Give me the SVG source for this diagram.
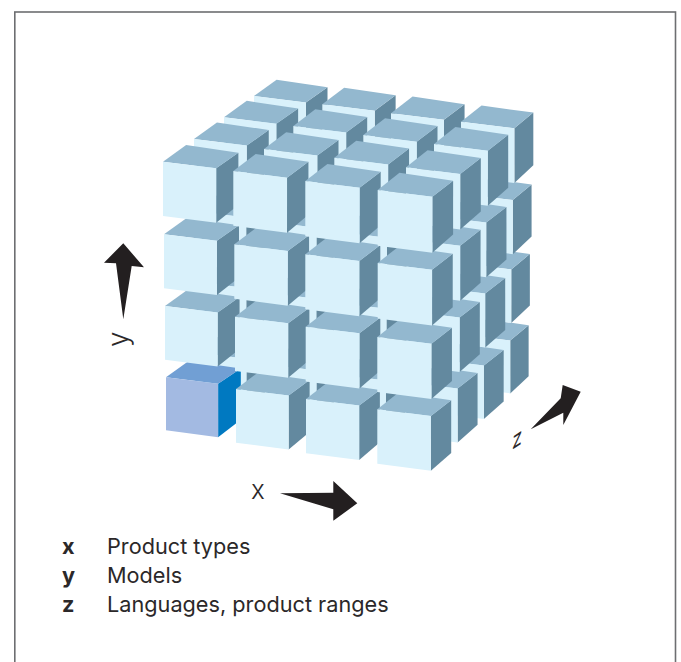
<svg xmlns="http://www.w3.org/2000/svg" width="681" height="662" viewBox="0 0 681 662">
<style>
.f{fill:#d9f1fb}.t{fill:#93b8cf}.s{fill:#63899f}
.bf{fill:#a3bae2}.bt{fill:#719fd4}.bs{fill:#0079c1}
.a{fill:#231f20}
text{font-family:"Inter","Liberation Sans",sans-serif;fill:#2b2829}
.l{font-size:21.7px}.b{font-size:21.7px;font-weight:700}.ax{font-size:26px;font-weight:300}
</style>
<defs>
<g id="c0"><polygon class="s" points="54,6.7 76.5,-9.2 76.5,44 54,62"/><polygon class="t" points="0,0 23.5,-17 76.5,-9.2 54,6.7"/><polygon class="f" points="0,0 54,6.7 54,62 0,55"/></g>
<g id="c1"><polygon class="s" points="54,6.7 75.5,-9.2 75.5,44 54,62"/><polygon class="t" points="0,0 22.5,-17 75.5,-9.2 54,6.7"/><polygon class="f" points="0,0 54,6.7 54,62 0,55"/></g>
<g id="c2"><polygon class="s" points="54,6.7 75,-9.2 75,44 54,62"/><polygon class="t" points="0,0 22,-17 75,-9.2 54,6.7"/><polygon class="f" points="0,0 54,6.7 54,62 0,55"/></g>
<g id="c3"><polygon class="s" points="54,6.7 74.5,-9.2 74.5,44 54,62"/><polygon class="t" points="0,0 21.5,-17 74.5,-9.2 54,6.7"/><polygon class="f" points="0,0 54,6.7 54,62 0,55"/></g>
<g id="c3b"><polygon class="s" points="54,6.7 73.2,-9.2 73.2,44 54,62"/><polygon class="t" points="0,0 20.8,-16.4 73.2,-9.2 54,6.7"/><polygon class="f" points="0,0 54,6.7 54,62 0,55"/></g>
<g id="cb"><polygon class="bs" points="54,6.7 77.5,-9.2 77.5,44 54,62"/><polygon class="bt" points="0,0 23.5,-17 77.5,-9.2 54,6.7"/><polygon class="bf" points="0,0 54,6.7 54,62 0,55"/></g>
</defs>
<rect id="frame" x="14.8" y="12" width="660.7" height="670" fill="none" stroke="#6d6e71" stroke-width="1.6"/>
<g id="cubes">
<use href="#c0" transform="translate(253.9 302.3) scale(.931)"/><use href="#c1" transform="translate(322.4 314) scale(.941)"/><use href="#c2" transform="translate(389.1 324) scale(.951)"/><use href="#c3b" transform="translate(458.5 334) scale(.958)"/>
<use href="#c0" transform="translate(253.8 232.5) scale(.941)"/><use href="#c1" transform="translate(322.3 243.2) scale(.951)"/><use href="#c2" transform="translate(389.7 253.2) scale(.961)"/><use href="#c3b" transform="translate(459 263) scale(.968)"/>
<use href="#c0" transform="translate(254 164.7) scale(.951)"/><use href="#c1" transform="translate(322.5 174.7) scale(.961)"/><use href="#c2" transform="translate(390.2 184.7) scale(.971)"/><use href="#c3b" transform="translate(460 193.5) scale(.978)"/>
<use href="#c0" transform="translate(254 96) scale(.961)"/><use href="#c1" transform="translate(322.3 104.3) scale(.971)"/><use href="#c2" transform="translate(391 113.3) scale(.981)"/><use href="#c3b" transform="translate(461 121.7) scale(.988)"/>

<use href="#c0" transform="translate(224.6 327.3) scale(.939)"/><use href="#c1" transform="translate(293.6 339) scale(.949)"/><use href="#c2" transform="translate(361.4 349) scale(.959)"/><use href="#c3" transform="translate(431.7 359) scale(.966)"/>
<use href="#c0" transform="translate(224.2 257) scale(.949)"/><use href="#c1" transform="translate(293.2 267.7) scale(.959)"/><use href="#c2" transform="translate(361.7 277.7) scale(.969)"/><use href="#c3" transform="translate(432.5 287) scale(.976)"/>
<use href="#c0" transform="translate(224 187.9) scale(.959)"/><use href="#c1" transform="translate(293.1 197.9) scale(.969)"/><use href="#c2" transform="translate(361.9 207.9) scale(.979)"/><use href="#c3" transform="translate(433 216) scale(.986)"/>
<use href="#c0" transform="translate(224 117.3) scale(.969)"/><use href="#c1" transform="translate(293.3 126) scale(.979)"/><use href="#c2" transform="translate(363.3 135) scale(.989)"/><use href="#c3" transform="translate(434 144) scale(.996)"/>

<use href="#c0" transform="translate(195.3 352.3) scale(.947)"/><use href="#c1" transform="translate(264.8 364) scale(.957)"/><use href="#c2" transform="translate(333.7 374) scale(.967)"/><use href="#c3" transform="translate(405 382) scale(.974)"/>
<use href="#c0" transform="translate(194.6 281.5) scale(.957)"/><use href="#c1" transform="translate(264.1 292.2) scale(.967)"/><use href="#c2" transform="translate(333.7 302.2) scale(.977)"/><use href="#c3" transform="translate(406.5 311) scale(.984)"/>
<use href="#c0" transform="translate(194 211.1) scale(.967)"/><use href="#c1" transform="translate(263.7 221.1) scale(.977)"/><use href="#c2" transform="translate(333.6 231.1) scale(.987)"/><use href="#c3" transform="translate(406.5 239) scale(.994)"/>
<use href="#c0" transform="translate(194 139) scale(.977)"/><use href="#c1" transform="translate(264 149) scale(.987)"/><use href="#c2" transform="translate(334.3 157.7) scale(.997)"/><use href="#c3" transform="translate(406 167.3) scale(1.004)"/>

<use href="#cb" transform="translate(166 377.3) scale(.965)"/><use href="#c1" transform="translate(236 389) scale(.975)"/><use href="#c2" transform="translate(306 399) scale(.985)"/><use href="#c3" transform="translate(377.3 409.3) scale(.992)"/>
<use href="#c0" transform="translate(165 306) scale(.975)"/><use href="#c1" transform="translate(235 316.7) scale(.985)"/><use href="#c2" transform="translate(305.7 326.7) scale(.995)"/><use href="#c3" transform="translate(377.3 337) scale(1.002)"/>
<use href="#c0" transform="translate(164 234.3) scale(.98)"/><use href="#c1" transform="translate(234.3 244.3) scale(.99)"/><use href="#c2" transform="translate(305.3 254.3) scale(1)"/><use href="#c3" transform="translate(377.7 263) scale(1.007)"/>
<use href="#c0" transform="translate(163 161.7) scale(.985)"/><use href="#c1" transform="translate(233.3 171) scale(.995)"/><use href="#c2" transform="translate(305.3 181) scale(1.005)"/><use href="#c3" transform="translate(377.7 190) scale(1.012)"/>
</g>
<g id="axes">
<polygon class="a" points="123.3,243.3 104,262.7 116,263.3 123.3,319.3 131.7,266 144,267.3"/>
<polygon class="a" points="280,493.3 333.3,492.7 333.3,481 357.3,503.3 333.3,520.7 333.3,509.3"/>
<polygon class="a" points="530.7,429.3 560.7,398.3 562.7,385 580.7,391.7 563.3,425 563.3,412.7"/>
</g>
<text class="ax" x="251" y="498.5">x</text>
<text class="ax" style="font-size:28px" transform="translate(128 347) rotate(-90)">y</text>
<text class="ax" style="font-weight:400" transform="matrix(.69 -.46 -.06 .93 511.7 450)">z</text>
<g id="legend">
<text class="b" x="62" y="553.7">x</text><text class="l" x="107" y="553.7">Product types</text>
<text class="b" x="62" y="583">y</text><text class="l" x="107" y="583">Models</text>
<text class="b" x="62" y="612.3">z</text><text class="l" x="107" y="612.3">Languages, product ranges</text>
</g>
</svg>
